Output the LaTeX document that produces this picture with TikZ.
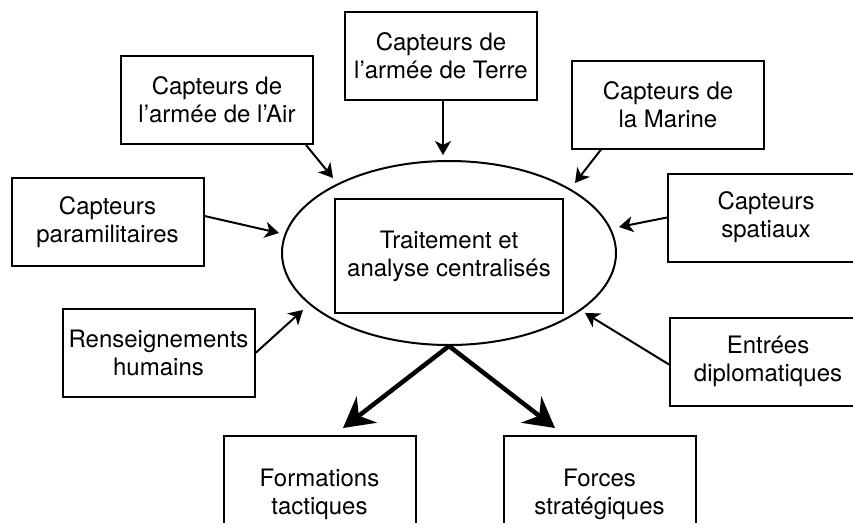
\documentclass[tikz,border=0pt]{standalone}
\usepackage{fontspec}
\setmainfont{TeX Gyre Heros}
\usetikzlibrary{shapes.geometric,arrows.meta,calc}
\tikzset{
  box/.style={draw, line width=2pt, minimum width=192pt, minimum height=88pt,
    inner sep=0pt, align=center, font=\fontsize{24}{28}\selectfont},
  wide/.style={minimum width=196pt},
  tall/.style={minimum height=116pt},
  thin/.style={line width=2pt, -{Stealth[length=14pt,width=16pt,inset=4pt]}},
  thick/.style={line width=4.5pt, -{Stealth[length=30pt,width=33pt,inset=10pt]}},
}
\begin{document}
\begin{tikzpicture}[x=1pt,y=-1pt]
\clip (0,0) rectangle (853,522);
\fill[white] (0,0) rectangle (853,522);
% centre
\node[ellipse, draw, line width=2pt, minimum width=334pt, minimum height=184pt, inner sep=0pt] (ell) at (449,253) {};
\node[box, minimum width=228pt, minimum height=114pt] (core) at (449,256) {Traitement et\\analyse centralisés};
% inputs
\node[box] (terre) at (441,56) {Capteurs de\\l’armée de Terre};
\node[box] (air) at (217,100) {Capteurs de\\l’armée de l’Air};
\node[box] (marine) at (668,104.5) {Capteurs de\\la Marine};
\node[box] (para) at (107.5,222) {Capteurs\\paramilitaires};
\node[box, wide] (spat) at (766,217.5) {Capteurs\\spatiaux};
\node[box] (rens) at (158.5,353) {Renseignements\\humains};
\node[box, wide] (entr) at (768,361.5) {Entrées\\diplomatiques};
% outputs
\node[box, tall] (form) at (319.5,494) {Formations\\tactiques};
\node[box, tall] (forc) at (599.5,494) {Forces\\stratégiques};
% tips
\coordinate (tTerre) at (443,155);
\coordinate (tAir) at (333,178);
\coordinate (tMarine) at (575,183);
\coordinate (tPara) at (279,233);
\coordinate (tSpat) at (619,227);
\coordinate (tRens) at (303,310);
\coordinate (tEntr) at (585,313);
\coordinate (tForm) at (343,428);
\coordinate (tForc) at (555,428);
% connectors
\draw[thin] ($(terre.south)+(2,0)$) -- (tTerre);
\draw[thin] ($(air.south east)+(-8,0)$) -- (tAir);
\draw[thin] ($(marine.south west)+(30,0)$) -- (tMarine);
\draw[thin] ($(para.east)+(0,-6)$) -- (tPara);
\draw[thin] (spat.west) -- (tSpat);
\draw[thin] (rens.east) -- (tRens);
\draw[thin] ($(entr.west)+(0,3)$) -- (tEntr);
\draw[thick] (ell.south) -- (tForm);
\draw[thick] (ell.south) -- (tForc);
\end{tikzpicture}
\end{document}
